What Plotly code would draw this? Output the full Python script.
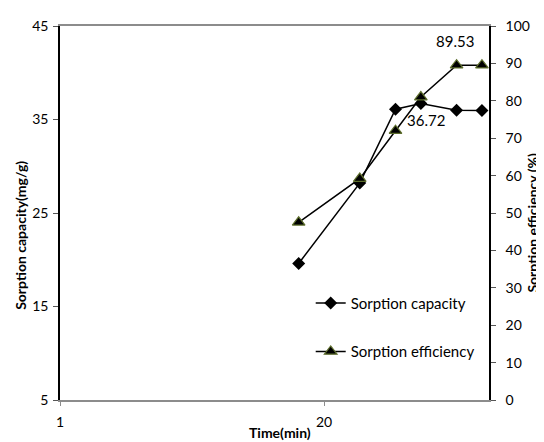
import numpy as np
import plotly.graph_objects as go

time_min = [15, 30, 45, 60, 90, 120]
sorption_capacity = [19.6, 28.2, 36.1, 36.72, 36.0, 35.95]
sorption_efficiency = [47.5, 59.2, 72.0, 81.0, 89.53, 89.53]
x_tick_vals = [1, 20]
x_tick_text = ["1", "20"]

FONT = "Lato, sans-serif"
OFF = 8  # page body margin
PL, PR, PT, PB = 60, 489.5, 17.3, 400  # desired plot area in page pixels
PW, PH = PR - PL, PB - PT


def px(xp):
    return (xp - PL) / PW


def py(yp):
    return (PB - yp) / PH


fig = go.Figure()

fig.add_trace(go.Scatter(
    x=time_min, y=sorption_capacity, name="Sorption capacity",
    mode="lines+markers", legendgroup="a",
    line=dict(color="black", width=1.5),
    marker=dict(symbol="diamond", size=10, color="black"),
    yaxis="y"))
fig.add_trace(go.Scatter(
    x=time_min, y=sorption_efficiency, name="Sorption efficiency",
    mode="lines+markers", legendgroup="b",
    line=dict(color="black", width=1.5),
    marker=dict(symbol="triangle-up", size=11, color="black",
                line=dict(color="#5d6e2c", width=1.2)),
    yaxis="y2"))

fig.add_annotation(x=np.log10(time_min[3]), y=sorption_capacity[3], xref="x", yref="y",
                   xanchor="center", yanchor="middle",
                   text=f"{sorption_capacity[3]:.2f}", showarrow=False, xshift=5, yshift=-17,
                   font=dict(family=FONT, size=15, color="black"))
fig.add_annotation(x=np.log10(time_min[4]), y=sorption_efficiency[4], xref="x", yref="y2",
                   xanchor="center", yanchor="middle",
                   text=f"{sorption_efficiency[4]:.2f}", showarrow=False, xshift=-2, yshift=24,
                   font=dict(family=FONT, size=15, color="black"))

# axis titles
fig.add_annotation(x=px(21), y=py(232), xref="paper", yref="paper", xanchor="center", yanchor="middle",
                   text="<b>Sorption capacity(mg/g)</b>", textangle=-90, showarrow=False,
                   font=dict(family=FONT, size=14, color="black"))
fig.add_annotation(x=px(533), y=py(218), xref="paper", yref="paper", xanchor="center", yanchor="middle",
                   text="<b>Sorption efficiency (%)</b>", textangle=-90, showarrow=False,
                   font=dict(family=FONT, size=14, color="black"))
fig.add_annotation(x=px(280), y=py(433), xref="paper", yref="paper", xanchor="center", yanchor="middle",
                   text="<b>Time(min)</b>", showarrow=False,
                   font=dict(family=FONT, size=14, color="black"))

fig.update_layout(
    width=544, height=442,
    margin=dict(l=PL - OFF, r=544 - (PR - OFF), t=PT - OFF, b=442 - (PB - OFF)),
    paper_bgcolor="white", plot_bgcolor="white",
    font=dict(family=FONT, size=14, color="black"),
    showlegend=True,
    legend=dict(x=px(311), y=py(284), xanchor="left", yanchor="top",
                bgcolor="rgba(0,0,0,0)", itemwidth=30, tracegroupgap=26,
                font=dict(family=FONT, size=15, color="black")),
    xaxis=dict(type="log", range=[0, np.log10(130)], tickvals=x_tick_vals, ticktext=x_tick_text,
               showgrid=False, zeroline=False, showline=True, linecolor="#8c8c8c", linewidth=1.5,
               mirror=True, ticks="outside", ticklen=4, tickcolor="#8c8c8c",
               ticklabelstandoff=4),
    yaxis=dict(range=[5, 45], tickvals=[5, 15, 25, 35, 45], showgrid=False, zeroline=False,
               showline=True, linecolor="black", linewidth=1.5, ticks="outside", ticklen=5,
               tickcolor="#555", ticklabelstandoff=2),
    yaxis2=dict(range=[0, 100], dtick=10, overlaying="y", side="right", showgrid=False,
                zeroline=False, showline=True, linecolor="black", linewidth=1.5,
                ticks="outside", ticklen=5, tickcolor="#555", ticklabelstandoff=7),
)

fig.write_html("out.html")
